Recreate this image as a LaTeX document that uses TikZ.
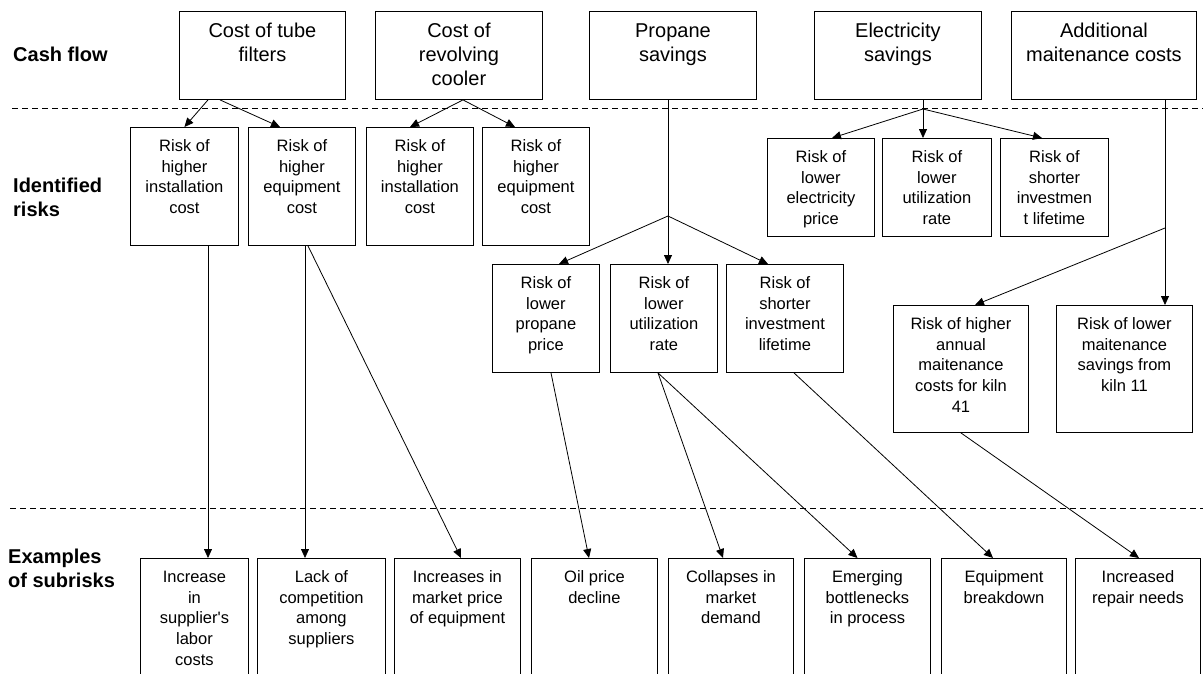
\documentclass[tikz,border=0pt]{standalone}
\usepackage{fontspec}
\setmainfont{Liberation Sans}
\usetikzlibrary{arrows.meta}

% box contents, text hangs from the top edge
\newcommand{\cashtext}[2]{\parbox[t][88pt][t]{#1}{\centering\rule{0pt}{25.7pt}#2}}
\newcommand{\risktext}[3]{\parbox[t][#2][t]{#1}{\centering\rule{0pt}{24pt}#3}}

\begin{document}
\begin{tikzpicture}[x=1pt,y=-1pt,
    box/.style={draw, line width=0.9pt, inner sep=0pt, anchor=north west},
    cashbox/.style={box, font=\fontsize{20}{24}\selectfont},
    riskbox/.style={box, font=\fontsize{16.5}{20.7}\selectfont},
    rowlabel/.style={inner sep=0pt, align=left, font=\fontsize{20}{24}\selectfont\bfseries},
    link/.style={line width=0.8pt},
    arr/.style={link, -{Triangle[length=9pt,width=8pt]}},
    sep/.style={line width=0.8pt, dash pattern=on 6pt off 4pt}]
    \useasboundingbox (0,0) rectangle (1203,673);
    % row labels
    \node[rowlabel, anchor=base west] (lcash) at (13,61.7) {Cash flow};
    \node[rowlabel, anchor=north west] (lrisk) at (13,177.5) {Identified\\risks};
    \node[rowlabel, anchor=north west] (lsub) at (8,548.5) {Examples\\of subrisks};
    \draw[sep] (12,108) -- (1203,108);
    \draw[sep] (10,508) -- (1203,508);
    % cash flows
    \node[cashbox] (cf1) at (179,11) {\cashtext{166pt}{Cost of tube\\filters}};
    \node[cashbox] (cf2) at (375,11) {\cashtext{167pt}{Cost of\\revolving\\cooler}};
    \node[cashbox] (cf3) at (589,11) {\cashtext{167pt}{Propane\\savings}};
    \node[cashbox] (cf4) at (814,11) {\cashtext{167pt}{Electricity\\savings}};
    \node[cashbox] (cf5) at (1011,11) {\cashtext{185pt}{Additional\\maitenance costs}};
    % identified risks
    \node[riskbox] (r1) at (130,127) {\risktext{108pt}{118pt}{Risk of\\higher\\installation\\cost}};
    \node[riskbox] (r2) at (248,127) {\risktext{107pt}{118pt}{Risk of\\higher\\equipment\\cost}};
    \node[riskbox] (r3) at (366,127) {\risktext{107pt}{118pt}{Risk of\\higher\\installation\\cost}};
    \node[riskbox] (r4) at (482,127) {\risktext{107pt}{118pt}{Risk of\\higher\\equipment\\cost}};
    \node[riskbox] (r5) at (767,138) {\risktext{107pt}{98pt}{Risk of\\lower\\electricity\\price}};
    \node[riskbox] (r6) at (882,138) {\risktext{109pt}{98pt}{Risk of\\lower\\utilization\\rate}};
    \node[riskbox] (r7) at (1000,138) {\risktext{108pt}{98pt}{Risk of\\shorter\\investmen\\t lifetime}};
    \node[riskbox] (r8) at (492,264) {\risktext{107pt}{108pt}{Risk of\\lower\\propane\\price}};
    \node[riskbox] (r9) at (610,264) {\risktext{107pt}{108pt}{Risk of\\lower\\utilization\\rate}};
    \node[riskbox] (r10) at (726,264) {\risktext{117pt}{108pt}{Risk of\\shorter\\investment\\lifetime}};
    \node[riskbox] (r11) at (893,305) {\risktext{135pt}{127pt}{Risk of higher\\annual\\maitenance\\costs for kiln\\41}};
    \node[riskbox] (r12) at (1056,305) {\risktext{136pt}{127pt}{Risk of lower\\maitenance\\savings from\\kiln 11}};
    % subrisks
    \node[riskbox] (s1) at (140,558) {\risktext{108pt}{130pt}{Increase\\in\\supplier\textquotesingle s\\labor\\costs}};
    \node[riskbox] (s2) at (257,558) {\risktext{128pt}{130pt}{Lack of\\competition\\among\\suppliers}};
    \node[riskbox] (s3) at (394,558) {\risktext{126pt}{130pt}{Increases in\\market price\\of equipment}};
    \node[riskbox] (s4) at (531,558) {\risktext{126pt}{130pt}{Oil price\\decline}};
    \node[riskbox] (s5) at (668,558) {\risktext{125pt}{130pt}{Collapses in\\market\\demand}};
    \node[riskbox] (s6) at (804,558) {\risktext{126pt}{130pt}{Emerging\\bottlenecks\\in process}};
    \node[riskbox] (s7) at (941,558) {\risktext{125pt}{130pt}{Equipment\\breakdown}};
    \node[riskbox] (s8) at (1075,558) {\risktext{125pt}{130pt}{Increased\\repair needs}};
    % branch points
    \coordinate (pj) at (668,216);
    \coordinate (ej) at (923,109);
    \coordinate (mj) at (1165,228);
    % cash flow -> risks
    \draw[arr] ([xshift=29pt]cf1.south west) -- (r1.north);
    \draw[arr] ([xshift=41pt]cf1.south west) -- ([xshift=32pt]r2.north west);
    \draw[arr] ([xshift=88pt]cf2.south west) -- ([xshift=44pt]r3.north west);
    \draw[arr] ([xshift=88pt]cf2.south west) -- ([xshift=33pt]r4.north west);
    \draw[link] ([xshift=79pt]cf3.south west) -- (pj);
    \draw[arr] (pj) -- ([xshift=67pt]r8.north west);
    \draw[arr] (pj) -- ([xshift=58pt]r9.north west);
    \draw[arr] (pj) -- ([xshift=42pt]r10.north west);
    \draw[link] ([xshift=109pt]cf4.south west) -- (ej);
    \draw[arr] (ej) -- ([xshift=65pt]r5.north west);
    \draw[arr] (ej) -- ([xshift=41pt]r6.north west);
    \draw[arr] (ej) -- ([xshift=42pt]r7.north west);
    \draw[arr] ([xshift=154pt]cf5.south west) -- ([xshift=109pt]r12.north west);
    \draw[arr] (mj) -- ([xshift=82pt]r11.north west);
    % risks -> subrisks
    \draw[arr] ([xshift=78pt]r1.south west) -- ([xshift=68pt]s1.north west);
    \draw[arr] ([xshift=57pt]r2.south west) -- ([xshift=48pt]s2.north west);
    \draw[arr] ([xshift=60pt]r2.south west) -- ([xshift=67pt]s3.north west);
    \draw[arr] ([xshift=59pt]r8.south west) -- ([xshift=58pt]s4.north west);
    \draw[arr] ([xshift=48pt]r9.south west) -- ([xshift=55pt]s5.north west);
    \draw[arr] ([xshift=48pt]r9.south west) -- ([xshift=53.5pt]s6.north west);
    \draw[arr] ([xshift=68pt]r10.south west) -- ([xshift=52pt]s7.north west);
    \draw[arr] (r11.south) -- ([xshift=64pt]s8.north west);
\end{tikzpicture}
\end{document}
